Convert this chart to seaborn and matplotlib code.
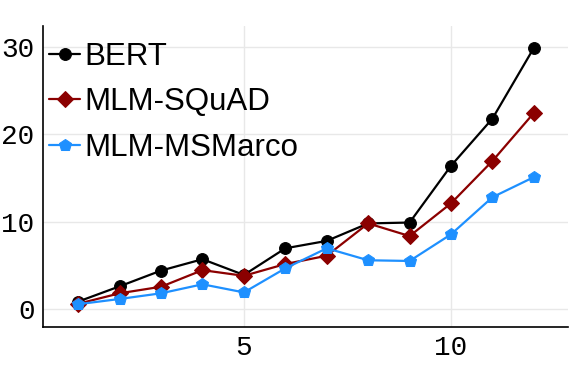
import numpy as np
import pandas as pd
import seaborn as sns
import matplotlib.pyplot as plt

# data
x = list(range(1, 13))
bert = [0.85, 2.6, 4.4, 5.7, 3.9, 6.95, 7.8, 9.8, 9.9, 16.4, 21.8, 29.9]
mlm_squad = [0.6, 1.8, 2.55, 4.45, 3.8, 5.15, 6.1, 9.8, 8.35, 12.1, 16.95, 22.45]
mlm_msmarco = [0.55, 1.15, 1.8, 2.83, 1.9, 4.66, 6.95, 5.58, 5.5, 8.55, 12.8, 15.1]

series = ["BERT", "MLM-SQuAD", "MLM-MSMarco"]
values = [bert, mlm_squad, mlm_msmarco]
colors = ["black", "#8B0000", "#1E90FF"]
markers = ["o", "D", "p"]
msizes = [8.5, 8, 9]

sns.set_style("white")
plt.rcParams["text.color"] = "black"

fig = plt.figure(figsize=(5.86, 3.70), dpi=100)
ax = fig.add_axes([0.0734, 0.1162, 0.8956, 0.8135])

for name, vals, c, m, ms in zip(series, values, colors, markers, msizes):
    df = pd.DataFrame({"x": x, "y": vals})
    sns.lineplot(data=df, x="x", y="y", ax=ax, color=c, marker=m, markersize=ms,
                 markeredgecolor=c, linewidth=1.6, label=name)

ax.set_xlim(0.15, 12.82)
ax.set_ylim(-2.06, 32.4)
ax.set_xticks([5, 10])
ax.set_yticks([0, 10, 20, 30])
ax.set_xlabel("")
ax.set_ylabel("")
ax.grid(True, color="#e8e8e8", linewidth=1)
ax.tick_params(length=0, labelsize=20, pad=6, labelcolor="black")
for lab in ax.get_xticklabels() + ax.get_yticklabels():
    lab.set_fontfamily("Liberation Mono")

for s in ["top", "right"]:
    ax.spines[s].set_visible(False)
for s in ["left", "bottom"]:
    ax.spines[s].set_color("black")
    ax.spines[s].set_linewidth(1.2)

leg = ax.legend(loc="upper left", bbox_to_anchor=(-0.012, 0.99), frameon=False,
                prop={"family": "Liberation Sans", "size": 22.5},
                handlelength=1.0, handletextpad=0.12, labelspacing=0.5,
                borderaxespad=0.0)
for t in leg.get_texts():
    t.set_color("black")

fig.savefig("out.png", dpi=100)
